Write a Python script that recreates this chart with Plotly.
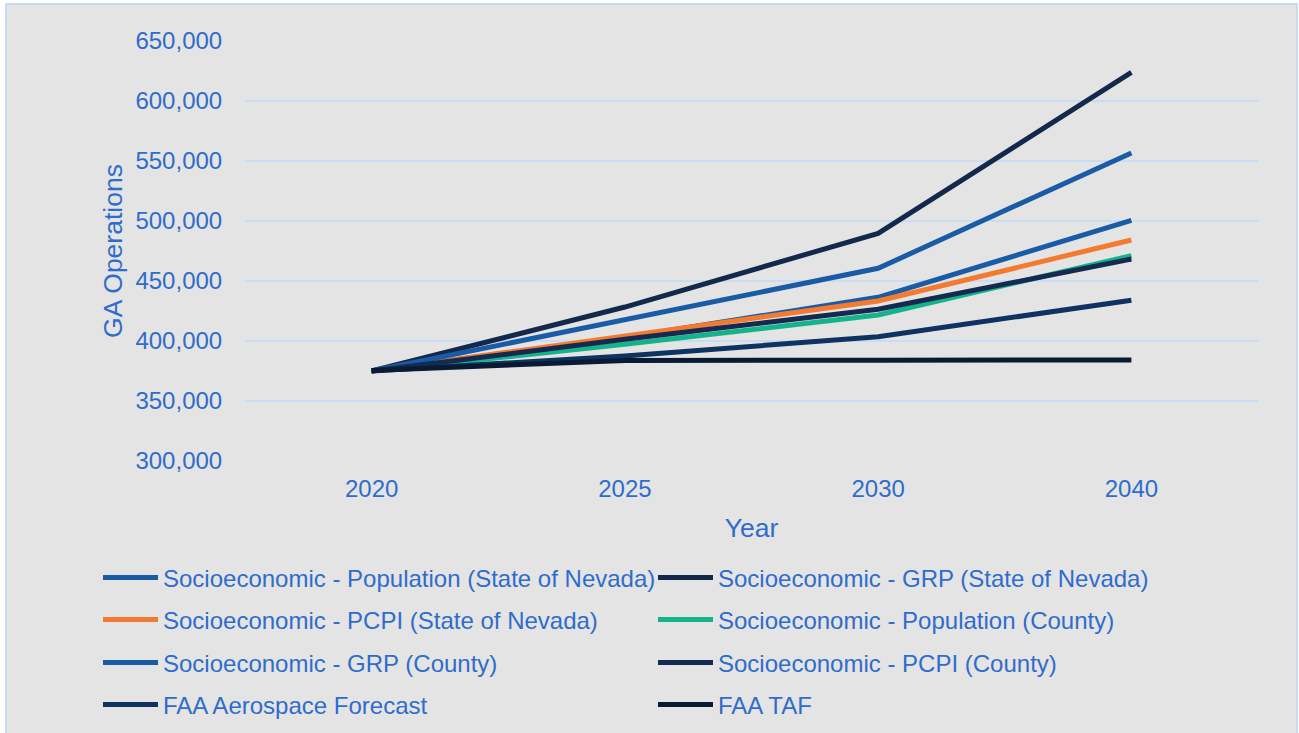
import plotly.graph_objects as go

# Forecast years (category axis) and GA operations per scenario
years = ["2020", "2025", "2030", "2040"]

pop_state = [375000, 403000, 436400, 500600]
grp_state = [375000, 428300, 489700, 623900]
pcpi_state = [375000, 404500, 433300, 484200]
pop_county = [375000, 397200, 421700, 471100]
grp_county = [375000, 417500, 460600, 556700]
pcpi_county = [375000, 401400, 426400, 468300]
faa_aerospace = [375000, 387500, 403600, 433900]
faa_taf = [375500, 383800, 384000, 384200]

series_names = [
    "Socioeconomic - Population (State of Nevada)",
    "Socioeconomic - GRP (State of Nevada)",
    "Socioeconomic - PCPI (State of Nevada)",
    "Socioeconomic - Population (County)",
    "Socioeconomic - GRP (County)",
    "Socioeconomic - PCPI (County)",
    "FAA Aerospace Forecast",
    "FAA TAF",
]
series_values = [pop_state, grp_state, pcpi_state, pop_county,
                 grp_county, pcpi_county, faa_aerospace, faa_taf]
series_colors = ["#1a5ba6", "#13294b", "#f47a30", "#15b38a",
                 "#1a5ba6", "#142a50", "#0e3361", "#0a1a33"]

y_ticks = [300000, 350000, 400000, 450000, 500000, 550000, 600000, 650000]

TEXT = "#2f6ccc"
GRID = "#c9dcf3"
BG = "#e4e4e4"
FONT = "Liberation Sans, Arial, sans-serif"

W, H = 1299, 733
L, R, T, B = 245, 41, 41, 272
pw, ph = W - L - R, H - T - B


def px_x(x):
    return (x - L) / pw


def px_y(y):
    return (H - B - y) / ph


fig = go.Figure()

# one single-entry legend per series, laid out as a two-column grid
legend_ids = ["legend"] + [f"legend{i}" for i in range(2, 9)]
col_x = [98, 653]
row_y = [578, 620, 663, 705]

legend_layout = {}
for i, (name, vals, col) in enumerate(zip(series_names, series_values, series_colors)):
    lid = legend_ids[i]
    fig.add_trace(go.Scatter(
        x=years, y=vals, name=name, mode="lines",
        line=dict(color=col, width=5),
        legend=lid,
    ))
    legend_layout[lid] = dict(
        xref="paper", yref="paper",
        x=px_x(col_x[i % 2]), y=px_y(row_y[i // 2]),
        xanchor="left", yanchor="middle",
        bgcolor="rgba(0,0,0,0)", borderwidth=0,
        font=dict(family=FONT, size=24, color=TEXT),
        itemwidth=55,
    )

# chart frame behind the plot
fig.add_shape(
    type="rect", xref="paper", yref="paper", layer="below",
    x0=px_x(6), x1=px_x(1297),
    y0=px_y(745), y1=px_y(4),
    fillcolor=BG, line=dict(color="#c6dbf4", width=2),
)

fig.update_layout(
    width=W, height=H,
    margin=dict(l=L, r=R, t=T, b=B, autoexpand=False),
    paper_bgcolor="white", plot_bgcolor="rgba(0,0,0,0)",
    font=dict(family=FONT, color=TEXT, size=24),
    showlegend=True,
    **legend_layout,
)

fig.update_xaxes(
    type="category", categoryorder="array", categoryarray=years,
    range=[-0.5, 3.5], showgrid=False, zeroline=False, showline=False,
    ticks="outside", ticklen=6, tickcolor="rgba(0,0,0,0)",
    tickfont=dict(size=24, color=TEXT), automargin=False,
    title=dict(text="Year", font=dict(size=26.5, color=TEXT), standoff=17),
)
fig.update_yaxes(
    range=[300000, 650000], tickvals=y_ticks,
    ticktext=[f"{v:,}" for v in y_ticks],
    showgrid=True, gridcolor=GRID, gridwidth=2, zeroline=False, showline=False,
    ticks="outside", ticklen=17, tickcolor="rgba(0,0,0,0)",
    tickfont=dict(size=24, color=TEXT), automargin=False,
    title=dict(text="GA Operations", font=dict(size=26.5, color=TEXT), standoff=5),
)

fig.write_html("out.html")
